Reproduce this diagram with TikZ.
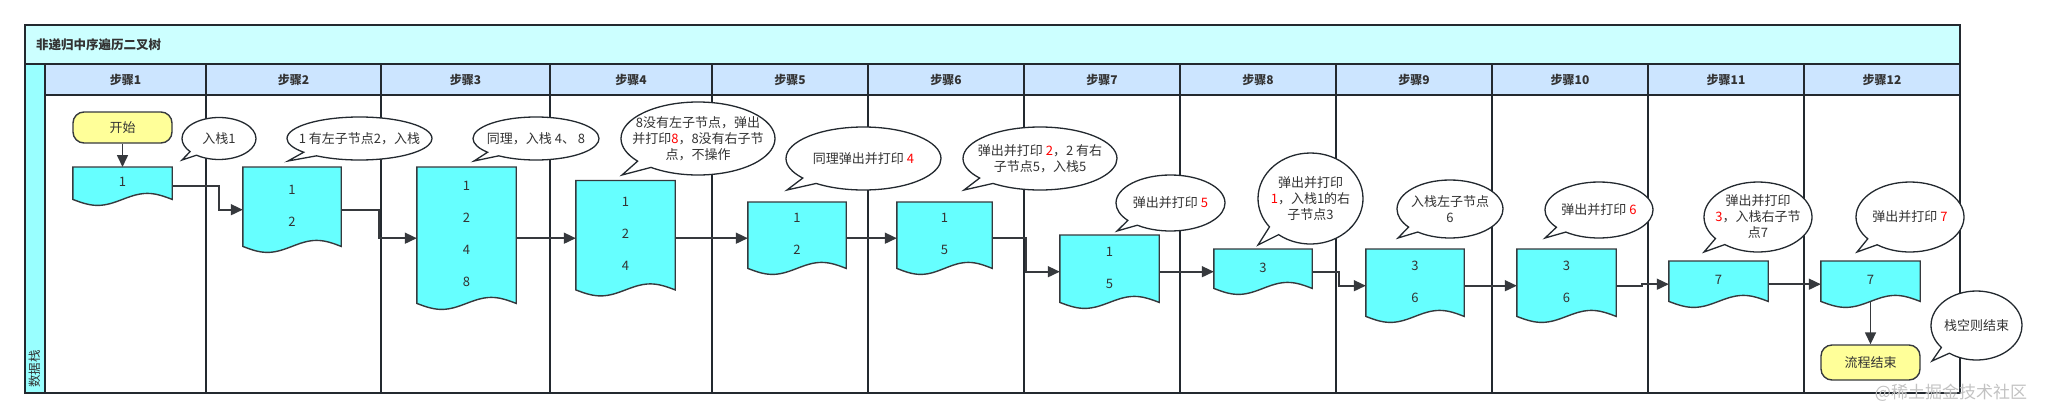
\documentclass[tikz,border=0pt]{standalone}
\usepackage{fontspec}
\setmainfont{Noto Sans CJK SC}
\usepackage{xcolor}
\usepackage{tikz}
\usetikzlibrary{shapes.geometric, shapes.callouts, arrows.meta, positioning, calc, backgrounds}
\definecolor{linegray}{RGB}{35,41,47}
\definecolor{docline}{RGB}{54,57,61}
\definecolor{textgray}{RGB}{51,51,51}
\definecolor{poolcyan}{RGB}{204,255,255}
\definecolor{headblue}{RGB}{204,229,255}
\definecolor{lanecyan}{RGB}{153,255,255}
\definecolor{stackcyan}{RGB}{102,255,255}
\definecolor{termyellow}{RGB}{255,255,153}
\definecolor{printred}{RGB}{255,0,0}

\tikzset{
  lane/.style={draw=linegray, line width=1.6pt},
  titletext/.style={font=\bfseries\fontsize{12.5}{15}\selectfont, text=textgray, inner sep=0pt},
  headtext/.style={font=\bfseries\fontsize{12}{14}\selectfont, text=textgray},
  lanetext/.style={font=\fontsize{12.5}{15}\selectfont, text=textgray, inner sep=0pt},
  stackbox/.style={draw=none, inner sep=0pt},
  stackline/.style={draw=docline, fill=stackcyan, line width=1.4pt},
  stacktext/.style={align=center, text=textgray, font=\fontsize{13}{32}\selectfont, inner sep=0pt},
  term/.style={draw=docline, fill=termyellow, line width=1.4pt, rounded corners=11pt,
    text=textgray, font=\fontsize{13}{16}\selectfont, inner sep=0pt},
  bubble/.style={ellipse callout, draw=linegray, fill=white, line width=1.3pt,
    inner sep=0pt, callout pointer arc=14},
  bubtext/.style={align=center, text=textgray, font=\fontsize{13}{16}\selectfont, inner sep=0pt},
  flow/.style={draw=docline, line width=1.6pt, -{Triangle[length=12pt,width=11pt]}},
  watermark/.style={text=black!24, font=\fontsize{17}{20}\selectfont, inner sep=0pt},
}

\begin{document}
\begin{tikzpicture}[x=1pt, y=-1pt]
\useasboundingbox (0,0) rectangle (2046,418);

% Pool, lane and step columns
\begin{scope}[on background layer]
\draw[lane, fill=poolcyan] (25,25) rectangle (1960,64);
\draw[lane, fill=lanecyan] (25,64) rectangle (45,393);
\foreach \i/\xa/\xb in {1/45/206, 2/206/381, 3/381/550, 4/550/712, 5/712/868, 6/868/1024,
    7/1024/1180, 8/1180/1336, 9/1336/1492, 10/1492/1648, 11/1648/1804, 12/1804/1960} {
    \draw[lane] (\xa,95) rectangle (\xb,393);
    \draw[lane, fill=headblue] (\xa,64) rectangle (\xb,95);
    \node[headtext] (h\i) at ({(\xa+\xb)/2},80) {步骤\i};
}
\end{scope}
\node[titletext, anchor=west] (title) at (36,45) {非递归中序遍历二叉树};
\node[lanetext, rotate=90, anchor=west] (lanelabel) at (35,388) {数据栈};

% Stack snapshots
\foreach \nm/\x/\y/\w/\h/\txt in {
    d1/122.5/167/99/38/{1},
    d2/292/167/98/85/{1\\2},
    d3/466.5/167/99/142/{1\\2\\4\\8},
    d4/625.5/180.5/99/115/{1\\2\\4},
    d5/797/202/98/72/{1\\2},
    d6/944.5/202/95/72/{1\\5},
    d7/1109.5/235/99/73/{1\\5},
    d8/1263/249/98/45/{3},
    d9/1415/249/98/73/{3\\6},
    d10/1566.5/249/99/73/{3\\6},
    d11/1718.5/261/99/46/{7},
    d12/1870.5/261/99/46/{7}} {
    \node[stackbox, minimum width=\w, minimum height=\h, anchor=north] (\nm) at (\x,\y) {};
    \begin{scope}[on background layer]
    \draw[stackline] (\nm.north west) -- (\nm.north east) -- ($(\nm.south east)+(0,-6)$)
        sin ($(\nm.south east)!.25!(\nm.south west)+(0,-12)$) cos ($(\nm.south)+(0,-6)$)
        sin ($(\nm.south east)!.75!(\nm.south west)$) cos ($(\nm.south west)+(0,-6)$) -- cycle;
    \end{scope}
    \node[stacktext] (t\nm) at ([yshift=4]\nm.center) {\txt};
}

% Start and end
\node[term, minimum width=99, minimum height=31] (start) at (122.5,127.5) {开始};
\node[term, minimum width=99, minimum height=35] (stop) at (1870.5,362.5) {流程结束};

% Notes
\foreach \nm/\x/\y/\w/\h/\px/\py/\txt in {
    b1/219/138.5/74/42/182/160/{入栈1},
    b2/359.5/138.5/145/43/288/161/{1 有左子节点2，入栈},
    b3/536/138.5/126/43/474/161/{同理，入栈 4、 8},
    b4/698/138.5/154/73/622/175/{8没有左子节点，弹出\\并打印\textcolor{printred}{8}，8没有右子节\\点，不操作},
    b5/863.5/158.5/155/63/787/190/{同理弹出并打印 \textcolor{printred}{4}},
    b6/1040/158.5/154/63/964/190/{弹出并打印 \textcolor{printred}{2}，2 有右\\子节点5，入栈5},
    b7/1170.5/203/109/56/1117/231/{弹出并打印 \textcolor{printred}{5}},
    b8/1310.5/198.5/105/91/1258/245/{弹出并打印\\\textcolor{printred}{1}，入栈1的右\\子节点3},
    b9/1450/209/106/58/1398/238/{入栈左子节点\\6},
    b10/1599/210/108/56/1545/238/{弹出并打印 \textcolor{printred}{6}},
    b11/1758/217/108/70/1704/252/{弹出并打印\\\textcolor{printred}{3}，入栈右子节\\点7},
    b12/1910/217/108/70/1857/252/{弹出并打印 \textcolor{printred}{7}},
    b13/1976.5/325.5/91/69/1932/361/{栈空则结束}} {
    \node[bubble, minimum width=\w, minimum height=\h, callout absolute pointer={(\px,\py)}] (\nm) at (\x,\y) {};
    \node[bubtext] (t\nm) at (\nm) {\txt};
}

% Flow
\draw[flow] (start) -- (d1);
\draw[flow] (d1.east) -| ([xshift=-24]d2.west) -- (d2.west);
\draw[flow] (d2.east) -| ([xshift=-38]d3.west) -- (d3.west);
\draw[flow] (d3.east) -- (d4.west);
\draw[flow] (d4.east) -- (d5.west);
\draw[flow] (d5.east) -- (d6.west);
\draw[flow] (d6.east) -| ([xshift=-34]d7.west) -- (d7.west);
\draw[flow] (d7.east) -- (d8.west);
\draw[flow] (d8.east) -| ([xshift=-27]d9.west) -- (d9.west);
\draw[flow] (d9.east) -- (d10.west);
\draw[flow] (d10.east) -| ([xshift=-27]d11.west) -- (d11.west);
\draw[flow] (d11.east) -- (d12.west);
\draw[flow] ([yshift=6]d12.south) -- (stop);

\node[watermark] (wm) at (1951,393) {@稀土掘金技术社区};
\end{tikzpicture}
\end{document}
